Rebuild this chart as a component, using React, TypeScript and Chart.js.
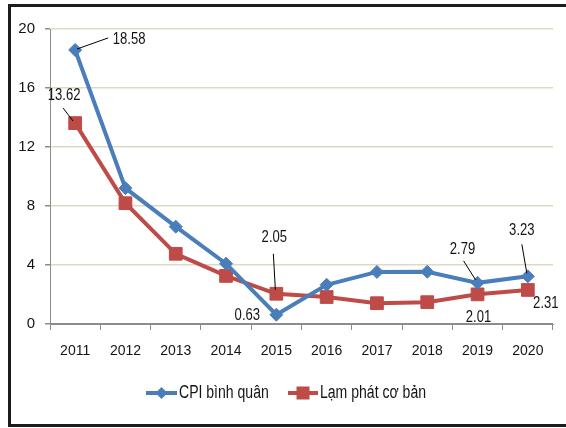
import React, { useEffect, useRef } from "react";
import { Chart, registerables } from "chart.js";

Chart.register(...registerables);

// ---- Data ----
const years = ["2011", "2012", "2013", "2014", "2015", "2016", "2017", "2018", "2019", "2020"];
const cpiValues = [18.58, 9.21, 6.6, 4.09, 0.63, 2.66, 3.53, 3.54, 2.79, 3.23];
const coreValues = [13.62, 8.19, 4.76, 3.26, 2.05, 1.83, 1.41, 1.48, 2.01, 2.31];
const yTicks = [0, 4, 8, 12, 16, 20];
const seriesNames = ["CPI bình quân", "Lạm phát cơ bản"];

// ---- Styles ----
const FONT = "'Liberation Sans', Arial, sans-serif";
const BLUE = "#4a7ebb";
const RED = "#be4b48";
const AXIS = "#8c8c8c";
const GRID = "#ddd9c3";
const TEXT = "#141414";

// label placement: dataset index, point index, text offset, optional leader line (x1,y1,x2,y2 offsets)
const labelSpecs = [
  { ds: 0, i: 0, dx: 54, dy: -11, line: [2, -1, 33, -12] },
  { ds: 1, i: 0, dx: -11, dy: -28, line: [-12, -15, -2, -2] },
  { ds: 1, i: 4, dx: -2, dy: -56, line: [-3, -40, -1, -4] },
  { ds: 0, i: 4, dx: -29, dy: 1, line: null },
  { ds: 0, i: 8, dx: -15, dy: -34, line: [-14, -22, -2, -3] },
  { ds: 1, i: 8, dx: 1, dy: 23, line: null },
  { ds: 0, i: 9, dx: -6, dy: -46, line: [-6, -32, -1, -3] },
  { ds: 1, i: 9, dx: 18, dy: 13, line: null },
];

function narrowText(
  ctx: CanvasRenderingContext2D,
  text: string,
  x: number,
  y: number,
  size: number,
  squeeze: number,
  align: CanvasTextAlign
) {
  ctx.save();
  ctx.font = `${size}px ${FONT}`;
  ctx.translate(x, y);
  ctx.scale(squeeze, 1);
  ctx.textAlign = align;
  ctx.textBaseline = "middle";
  ctx.fillStyle = TEXT;
  ctx.fillText(text, 0, 0);
  ctx.restore();
}

const labelPlugin = {
  id: "pointLabels",
  afterDatasetsDraw(chart: any) {
    const ctx = chart.ctx;
    ctx.save();
    labelSpecs.forEach((s) => {
      const el = chart.getDatasetMeta(s.ds).data[s.i];
      if (!el) return;
      const x = el.x;
      const y = el.y;
      if (s.line) {
        ctx.beginPath();
        ctx.moveTo(x + s.line[0], y + s.line[1]);
        ctx.lineTo(x + s.line[2], y + s.line[3]);
        ctx.strokeStyle = "#000";
        ctx.lineWidth = 1;
        ctx.stroke();
      }
      const v = chart.data.datasets[s.ds].data[s.i];
      narrowText(ctx, Number(v).toFixed(2), x + s.dx, y + s.dy, 17, 0.77, "center");
    });
    ctx.restore();
  },
};

const legendPlugin = {
  id: "customLegend",
  afterDraw(chart: any) {
    const ctx = chart.ctx;
    const y = 393;
    const items = [
      { x0: 146, x1: 177, color: BLUE, marker: "diamond", text: seriesNames[0] },
      { x0: 288, x1: 318, color: RED, marker: "square", text: seriesNames[1] },
    ];
    ctx.save();
    items.forEach((it) => {
      ctx.strokeStyle = it.color;
      ctx.lineWidth = 4;
      ctx.beginPath();
      ctx.moveTo(it.x0, y);
      ctx.lineTo(it.x1, y);
      ctx.stroke();
      const cx = (it.x0 + it.x1) / 2;
      ctx.fillStyle = it.color;
      ctx.beginPath();
      if (it.marker === "diamond") {
        ctx.moveTo(cx, y - 6);
        ctx.lineTo(cx + 6, y);
        ctx.lineTo(cx, y + 6);
        ctx.lineTo(cx - 6, y);
        ctx.closePath();
      } else {
        ctx.rect(cx - 6.5, y - 6.5, 13, 13);
      }
      ctx.fill();
      narrowText(ctx, it.text, it.x1 + 2, y, 18, 0.78, "left");
    });
    ctx.restore();
  },
};

export default function App() {
  const canvasRef = useRef<HTMLCanvasElement | null>(null);

  useEffect(() => {
    if (!canvasRef.current) return;
    const chart = new Chart(canvasRef.current, {
      type: "line",
      data: {
        labels: years,
        datasets: [
          {
            label: seriesNames[0],
            data: cpiValues,
            borderColor: BLUE,
            backgroundColor: BLUE,
            borderWidth: 4,
            pointStyle: "rectRot",
            pointRadius: 6.5,
            pointBorderWidth: 1,
            pointBackgroundColor: BLUE,
            pointBorderColor: BLUE,
            tension: 0,
          },
          {
            label: seriesNames[1],
            data: coreValues,
            borderColor: RED,
            backgroundColor: RED,
            borderWidth: 4,
            pointStyle: "rect",
            pointRadius: 9,
            pointBorderWidth: 1,
            pointBackgroundColor: RED,
            pointBorderColor: RED,
            tension: 0,
          },
        ],
      },
      options: {
        responsive: false,
        animation: false,
        layout: { padding: { top: 29, right: 13, bottom: 64, left: 0 } },
        plugins: {
          legend: { display: false },
          tooltip: { enabled: false },
        },
        scales: {
          x: {
            offset: true,
            grid: {
              offset: true,
              drawOnChartArea: false,
              drawTicks: true,
              tickLength: 6,
              color: AXIS,
              tickColor: AXIS,
            },
            border: { color: AXIS, width: 1 },
            ticks: {
              font: { family: FONT, size: 14 },
              color: TEXT,
              padding: 13,
              maxRotation: 0,
              autoSkip: false,
            },
            afterFit: (s: any) => {
              s.height = 40;
            },
          },
          y: {
            min: yTicks[0],
            max: yTicks[yTicks.length - 1],
            afterBuildTicks: (s: any) => {
              s.ticks = yTicks.map((v) => ({ value: v }));
            },
            ticks: {
              font: { family: FONT, size: 15 },
              color: TEXT,
              padding: 10,
            },
            grid: {
              color: (c: any) => (c.tick && c.tick.value === 0 ? AXIS : GRID),
              tickColor: AXIS,
              tickLength: 5,
              lineWidth: 1.5,
            },
            border: { color: AXIS, width: 1 },
            afterFit: (s: any) => {
              s.width = 50;
            },
          },
        },
      },
      plugins: [labelPlugin, legendPlugin],
    } as any);
    return () => chart.destroy();
  }, []);

  return (
    <div
      style={{
        position: "fixed",
        left: 0,
        top: 0,
        width: 566,
        height: 428,
        overflow: "hidden",
        background: "#fff",
      }}
    >
      <div
        style={{
          position: "absolute",
          left: 8,
          top: 4,
          width: 600,
          height: 423,
          boxSizing: "border-box",
          border: "3px solid #1c1c1c",
        }}
      />
      <canvas
        ref={canvasRef}
        width={566}
        height={428}
        style={{ position: "absolute", left: 0, top: 0, width: 566, height: 428 }}
      />
    </div>
  );
}
